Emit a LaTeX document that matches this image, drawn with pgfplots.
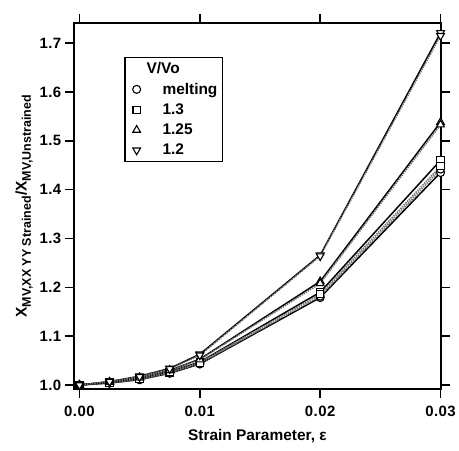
\documentclass[border=0pt]{standalone}
\usepackage{pgfplots}
\pgfplotsset{compat=1.18}
\usepackage{fontspec}
\setmainfont{Liberation Sans}
\newfontfamily\tickfont[LetterSpace=3]{Liberation Sans}
\begin{document}
\begin{tikzpicture}[font=\bfseries\fontsize{15}{17}\selectfont]
\useasboundingbox (-74pt,-61pt) rectangle (387pt,391pt);
\begin{axis}[
  scale only axis, width=369pt, height=368pt,
  at={(0,0)}, anchor=south west,
  xmin=-0.00048, xmax=0.030045, ymin=0.9912, ymax=1.7414,
  xtick={0,0.01,0.02,0.03}, ytick={1.0,1.1,1.2,1.3,1.4,1.5,1.6,1.7},
  /pgf/number format/assume math mode=true,
  xticklabel style={yshift=-4pt, /pgf/number format/.cd, fixed, fixed zerofill, precision=2},
  yticklabel style={/pgf/number format/.cd, fixed, fixed zerofill, precision=1},
  scaled x ticks=false,
  tick label style={font=\tickfont\bfseries\fontsize{15}{18}\selectfont},
  label style={font=\bfseries\fontsize{15.5}{17}\selectfont},
  tick align=outside, major tick length=9pt,
  tick style={line width=1.5pt, black},
  axis line style={line width=1.8pt},
  xlabel={Strain Parameter, ε},
  ylabel={X\textsubscript{\fontsize{12.5}{14}\selectfont MV,XX YY Strained}/X\textsubscript{\fontsize{12.5}{14}\selectfont MV,Unstrained}},
  ylabel style={yshift=0pt},
  xlabel style={yshift=-6pt},
  legend style={at={(0.138,0.908)}, anchor=north west, draw=black, line width=1.6pt,
    font=\bfseries\fontsize{15.5}{17}\selectfont, row sep=4pt, inner xsep=3pt, inner ysep=3pt},
  legend cell align=left,
  every axis plot/.append style={line width=1.5pt, mark size=4pt},
]
\addlegendimage{empty legend}\addlegendentry{\hspace{4pt}V/Vo}
\addlegendimage{only marks, mark=o, mark size=4pt, mark options={line width=1.1pt}}\addlegendentry{\hspace{20pt}melting}
\addlegendimage{only marks, mark=square, mark size=3.7pt, mark options={line width=1.1pt}}\addlegendentry{\hspace{20pt}1.3}
\addlegendimage{only marks, mark=triangle, mark size=4.5pt, mark options={line width=1.1pt}}\addlegendentry{\hspace{20pt}1.25}
\addlegendimage{only marks, mark=triangle, mark size=4.5pt, mark options={rotate=180, line width=1.1pt}}\addlegendentry{\hspace{20pt}1.2}
% melting
\addplot[forget plot, black, mark=*, mark options={solid, fill=white, draw=black, line width=1.1pt}] coordinates {(0,1.000)(0.0025,1.004)(0.005,1.011)(0.0075,1.024)(0.01,1.043)(0.02,1.179)(0.03,1.435)};
\addplot[forget plot, black!55, densely dotted, mark=*, mark options={solid, fill=white, draw=black, line width=1.1pt}] coordinates {(0,1.000)(0.0025,1.004)(0.005,1.011)(0.0075,1.025)(0.01,1.044)(0.02,1.182)(0.03,1.442)};
% 1.3
\addplot[forget plot, black, mark=square*, mark size=3.7pt, mark options={solid, fill=white, draw=black, line width=1.1pt}] coordinates {(0,1.000)(0.0025,1.005)(0.005,1.012)(0.0075,1.027)(0.01,1.047)(0.02,1.190)(0.03,1.460)};
\addplot[forget plot, black!55, densely dotted, mark=square*, mark size=3.7pt, mark options={solid, fill=white, draw=black, line width=1.1pt}] coordinates {(0,1.000)(0.0025,1.005)(0.005,1.012)(0.0075,1.026)(0.01,1.046)(0.02,1.186)(0.03,1.448)};
% 1.25
\addplot[forget plot, black, mark=triangle*, mark size=4.5pt, mark options={solid, fill=white, draw=black, line width=1.1pt}] coordinates {(0,1.000)(0.0025,1.006)(0.005,1.015)(0.0075,1.030)(0.01,1.053)(0.02,1.212)(0.03,1.538)};
\addplot[forget plot, black!55, densely dotted, mark=triangle*, mark size=4.5pt, mark options={solid, fill=white, draw=black, line width=1.1pt}] coordinates {(0,1.000)(0.0025,1.006)(0.005,1.015)(0.0075,1.030)(0.01,1.052)(0.02,1.208)(0.03,1.533)};
% 1.2
\addplot[forget plot, black, mark=triangle*, mark size=4.5pt, mark options={solid, fill=white, draw=black, line width=1.1pt, rotate=180}] coordinates {(0,1.000)(0.0025,1.007)(0.005,1.018)(0.0075,1.034)(0.01,1.063)(0.02,1.266)(0.03,1.721)};
\addplot[forget plot, black!55, densely dotted, mark=triangle*, mark size=4.5pt, mark options={solid, fill=white, draw=black, line width=1.1pt, rotate=180}] coordinates {(0,1.000)(0.0025,1.007)(0.005,1.017)(0.0075,1.033)(0.01,1.061)(0.02,1.264)(0.03,1.715)};
\end{axis}
\end{tikzpicture}
\end{document}
